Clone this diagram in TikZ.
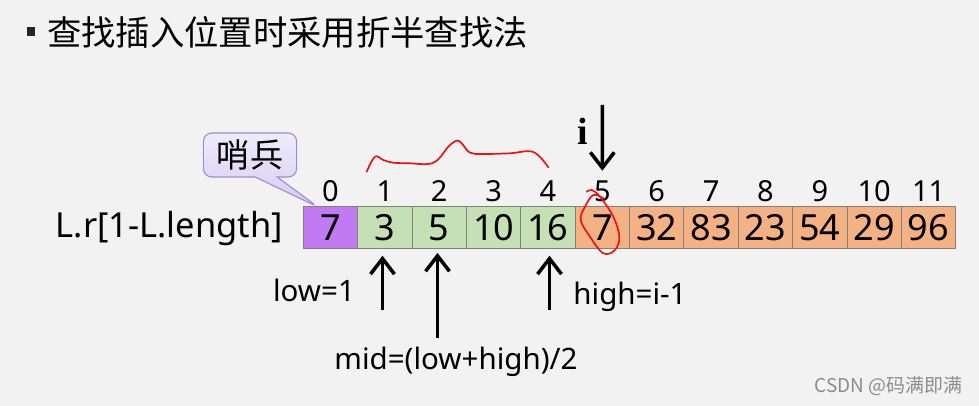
\documentclass[tikz,border=0pt]{standalone}
\usepackage{fontspec}
\setmainfont{Noto Sans}
\newfontfamily\cjk{Noto Sans CJK SC}
\newfontfamily\iserif{Liberation Serif}
\usetikzlibrary{arrows.meta, positioning, shapes.callouts}
\definecolor{slidegray}{RGB}{242,242,242}
\definecolor{sentinelpurple}{RGB}{193,122,244}
\definecolor{sortedgreen}{RGB}{197,224,180}
\definecolor{restorange}{RGB}{244,177,131}
\definecolor{cellline}{RGB}{128,128,128}
\definecolor{calloutlight}{RGB}{240,235,251}
\definecolor{calloutdark}{RGB}{214,202,242}
\definecolor{calloutline}{RGB}{160,140,208}
\definecolor{markred}{RGB}{232,20,20}

\begin{document}
\begin{tikzpicture}[x=0.025cm, y=-0.025cm,
    cell/.style={draw=cellline, line width=0.6pt, minimum width=1.359cm, minimum height=1.04cm, inner sep=0pt, font=\fontsize{25.6pt}{28pt}\selectfont},
    idx/.style={inner sep=0pt, anchor=base, font=\fontsize{20.6pt}{24pt}\selectfont},
    pointer/.style={line width=2.5pt, -{Straight Barb[length=11pt, width=17pt]}},
    note/.style={inner sep=0pt, font=\fontsize{21pt}{24pt}\selectfont},
    handmark/.style={markred, line width=1.2pt, line cap=round, line join=round}]
  \path[use as bounding box, fill=slidegray] (0,0) rectangle (979,406);

  % title
  \fill[black!85] (26.5,27.5) rectangle (35,36);
  \node[anchor=west, inner sep=0pt, font=\cjk\fontsize{24.4pt}{28pt}\selectfont] (title) at (47,32) {查找插入位置时采用折半查找法};

  % array cells and indices
  \foreach \v [count=\k from 0] in {7,3,5,10,16,7,32,83,23,54,29,96} {
    \ifnum\k=0 \def\cellfill{sentinelpurple}\else\ifnum\k<5 \def\cellfill{sortedgreen}\else\def\cellfill{restorange}\fi\fi
    \node[cell, fill=\cellfill] (c\k) at ({330.5+54.37*\k}, 227.5) {\v};
    \node[idx] (n\k) at ({330.5+54.37*\k}, 201.5) {\k};
  }
  \node[anchor=base east, inner sep=0pt, font=\fontsize{24.5pt}{28pt}\selectfont] (arr) at (283,238) {L.r[1-L.length]};

  % sentinel callout
  \node[rectangle callout, callout absolute pointer={(318,207)}, callout pointer width=0.55cm,
        draw=calloutline, line width=0.8pt, rounded corners=6pt, top color=calloutlight, bottom color=calloutdark,
        minimum width=2.33cm, minimum height=1.1cm, inner sep=0pt, font=\cjk\fontsize{23.5pt}{26pt}\selectfont] (guard) at (250,155) {哨兵};

  % i pointer
  \coordinate (itop) at (602.3,105);
  \node[anchor=base, inner sep=0pt, font=\iserif\bfseries\fontsize{27pt}{30pt}\selectfont] (ilabel) at (582.3,144.3) {i};
  \draw[pointer, shorten >=7pt] (itop) -- (n5.north);

  % low / mid / high
  \coordinate (lowfoot) at (382.5,310);
  \coordinate (midfoot) at (437.5,338);
  \coordinate (highfoot) at (549.5,310);
  \draw[pointer, shorten >=5pt] (lowfoot) -- (lowfoot |- c1.south);
  \draw[pointer, shorten >=3pt] (midfoot) -- (midfoot |- c2.south);
  \draw[pointer, shorten >=5pt] (highfoot) -- (highfoot |- c4.south);
  \node[note] (low) at (314,290) {low=1};
  \node[note] (high) at (630,297) {high=i-1};
  \node[note] (mid) at (456,362) {mid=(low+high)/2};

  % red pen marks
  \draw[handmark] plot[smooth, tension=0.6] coordinates {(366.7,171.7) (375,156.7) (383.3,160) (393.3,162.7) (410,163.3) (428.3,164) (438.3,159.3) (448.3,146.7) (456.7,140.7) (461.7,143.3) (470,152.7) (483.3,154) (510,153.3) (533.3,152) (548.3,167.3)};
  \draw[handmark] plot[smooth, tension=0.6] coordinates {(603.3,198.3) (593.3,195) (585,206.7) (580.7,220) (590,236.7) (603.3,253.3) (615,250) (619.3,236.7) (613.3,216.7) (600,196.7) (591.7,190) (586.7,191.7)};

  % watermark
  \node[anchor=east, inner sep=0pt, text=black!45, font=\cjk\fontsize{13.5pt}{15pt}\selectfont] (mark) at (963,386) {CSDN @码满即满};
\end{tikzpicture}
\end{document}
